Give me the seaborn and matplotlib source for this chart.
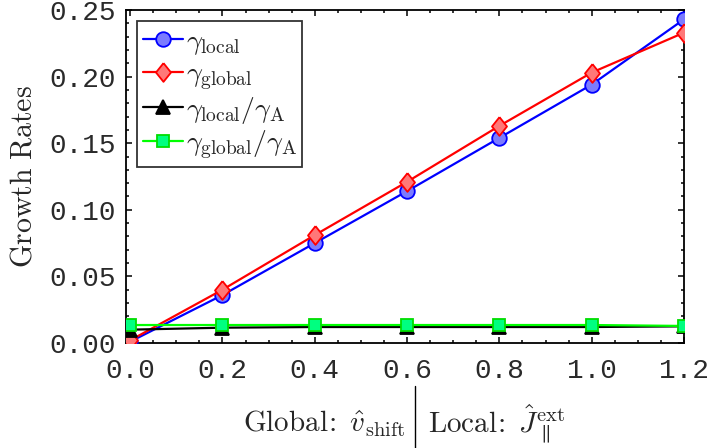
import numpy as np
import pandas as pd
import matplotlib
matplotlib.use("Agg")
import matplotlib.pyplot as plt
import seaborn as sns
from matplotlib.lines import Line2D
from matplotlib.ticker import MultipleLocator, FormatStrFormatter

# Scan parameter (global: v_shift, local: J_par^ext)
x_vals = [0.0, 0.2, 0.4, 0.6, 0.8, 1.0, 1.2]
gamma_local = [0.001, 0.036, 0.075, 0.114, 0.154, 0.194, 0.243]
gamma_global = [0.002, 0.040, 0.081, 0.121, 0.163, 0.203, 0.233]
gamma_local_norm = [0.010, 0.0115, 0.012, 0.012, 0.012, 0.012, 0.0125]
gamma_global_norm = [0.0135, 0.0135, 0.0135, 0.0135, 0.0135, 0.0135, 0.0128]

labels = [r"$\gamma_{\rm local}$", r"$\gamma_{\rm global}$",
          r"$\gamma_{\rm local}/\gamma_{\rm A}$", r"$\gamma_{\rm global}/\gamma_{\rm A}$"]

sns.set_style("ticks")
plt.rcParams["mathtext.fontset"] = "cm"
plt.rcParams["font.family"] = ["DejaVu Sans"]

diamond = [(0, 1), (0.8, 0), (0, -1), (-0.8, 0), (0, 1)]
styles = [
    dict(color="#0000ff", marker="o", ms=10.5, mfc="#7b7bff", mec="#0000ff"),
    dict(color="#ff0000", marker=diamond, ms=13.5, mfc="#ff7878", mec="#ff0000"),
    dict(color="#000000", marker="^", ms=9.5, mfc="#000000", mec="#000000"),
    dict(color="#00ff00", marker="s", ms=8.5, mfc="#00ff80", mec="#00dd00"),
]
series = [gamma_local, gamma_global, gamma_local_norm, gamma_global_norm]

fig = plt.figure(figsize=(7.1, 4.48), dpi=100)
ax = fig.add_axes([126 / 710, 1 - 343 / 448, (684 - 126) / 710, (343 - 10) / 448])

for vals, lab, st in zip(series, labels, styles):
    df = pd.DataFrame({"x": x_vals, "y": vals})
    sns.lineplot(data=df, x="x", y="y", ax=ax, color=st["color"], lw=1.6,
                 marker=st["marker"], markersize=st["ms"],
                 markerfacecolor=st["mfc"], markeredgecolor=st["mec"],
                 markeredgewidth=1.3, label=lab, legend=False, zorder=3)

ax.set_xlim(-0.009, 1.2)
ax.set_ylim(0.0, 0.25)
ax.xaxis.set_major_locator(MultipleLocator(0.2))
ax.xaxis.set_minor_locator(MultipleLocator(0.05))
ax.yaxis.set_major_locator(MultipleLocator(0.05))
ax.yaxis.set_minor_locator(MultipleLocator(0.01))
ax.xaxis.set_major_formatter(FormatStrFormatter("%.1f"))
ax.yaxis.set_major_formatter(FormatStrFormatter("%.2f"))
ax.tick_params(which="both", direction="in", top=True, right=True, width=1.1,
               colors="black")
ax.tick_params(which="major", length=4.5)
ax.tick_params(which="minor", length=2.5)
ax.tick_params(axis="x", which="major", pad=11)
ax.tick_params(axis="y", which="major", pad=7)
for t in ax.get_xticklabels() + ax.get_yticklabels():
    t.set_fontfamily("Liberation Mono")
    t.set_fontsize(20)
    t.set_color("#2a2a2a")
for sp in ax.spines.values():
    sp.set_linewidth(1.3)
    sp.set_color("black")

ax.set_xlabel("")
ax.set_ylabel(r"$\mathrm{Growth\ Rates}$", fontsize=21.5, labelpad=9)

handles = [Line2D([], [], color=st["color"], lw=1.6, marker=st["marker"],
                  markersize=st["ms"], markerfacecolor=st["mfc"],
                  markeredgecolor=st["mec"], markeredgewidth=1.3)
           for st in styles]
leg = ax.legend(handles, labels, loc="upper left", fontsize=20, fancybox=False,
                framealpha=1, edgecolor="#333333", borderaxespad=0.4,
                handlelength=1.45, handletextpad=0.1, labelspacing=0.1,
                borderpad=0.2)
leg.get_frame().set_linewidth(1.3)

# Two-part x-axis label with a vertical separator
fig.text(406 / 710, 1 - 432 / 448, r"$\mathrm{Global\!:}\ \hat{v}_{\rm shift}$",
         ha="right", va="baseline", fontsize=21)
fig.text(428 / 710, 1 - 432 / 448, r"$\mathrm{Local\!:}\ \hat{J}_{\parallel}^{\rm ext}$",
         ha="left", va="baseline", fontsize=21)
fig.add_artist(Line2D([415 / 710, 415 / 710], [1 - 386 / 448, 0.0],
                      color="black", lw=1.0, transform=fig.transFigure))

fig.savefig("out.png", dpi=100)
